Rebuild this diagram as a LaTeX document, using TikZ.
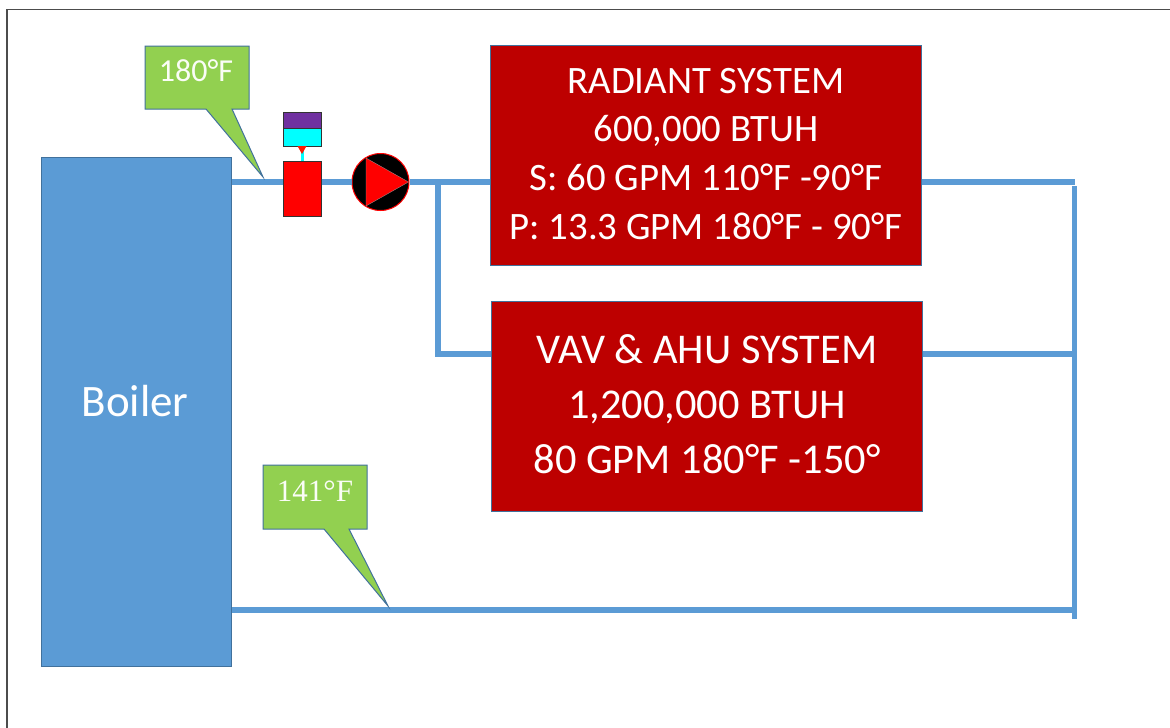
\documentclass[tikz,border=0pt]{standalone}
\usepackage{fontspec}
\setmainfont{Carlito}
\newfontfamily\calloutserif{Liberation Serif}
\definecolor{pipeblue}{HTML}{5B9BD5}
\definecolor{edgeblue}{HTML}{41719C}
\definecolor{loadred}{HTML}{BD0000}
\definecolor{tagred}{HTML}{FF0000}
\definecolor{taggreen}{HTML}{92D050}
\definecolor{sensorpurple}{HTML}{7030A0}
\definecolor{sensorcyan}{HTML}{00FFFF}
\newcommand{\liftstrut}{\rule[-4pt]{0pt}{4pt}}
\tikzset{
	pipe/.style={pipeblue,line width=5.5pt},
	loadbox/.style={draw=edgeblue,line width=1pt,fill=loadred,text=white,align=center,anchor=north west,inner sep=0pt},
	tagbox/.style={draw=edgeblue,line width=1pt,fill=taggreen},
	valvepart/.style={draw=black!80,line width=1.2pt,anchor=north west,inner sep=0pt}
}
\begin{document}
\begin{tikzpicture}[x=1pt,y=-1pt]
	\useasboundingbox (0,0) rectangle (1170,728);
	\fill[white] (0,0) rectangle (1170,728);
	\draw[black!70,line width=1.4pt] (7,728)--(7,9.5)--(1170,9.5);
	% boxes
	\node[anchor=north west,inner sep=0pt,draw=edgeblue,line width=.8pt,fill=pipeblue,minimum width=190pt,minimum height=509pt] (boiler) at (41,157){};
	\node[text=white,font=\fontsize{45}{54}\selectfont] (boilerlabel) at (135,401){Boiler};
	\node[loadbox,minimum width=431pt,minimum height=220pt,font=\fontsize{38.8}{48.7}\selectfont] (radiant) at (490,45){RADIANT SYSTEM\\600,000 BTUH\\S: 60 GPM 110°F -90°F\\P: 13.3 GPM 180°F - 90°F\liftstrut};
	\node[loadbox,minimum width=431pt,minimum height=210pt,font=\fontsize{42.4}{55}\selectfont] (vav) at (491,301){VAV \& AHU SYSTEM\\1,200,000 BTUH\\80 GPM 180°F -150°\liftstrut};
	% valve and pump
	\node[valvepart,fill=tagred,minimum width=37.5pt,minimum height=55pt] (valve) at (283,161){};
	\node[valvepart,fill=sensorcyan,minimum width=37.5pt,minimum height=18pt] (sensor) at (283,128){};
	\node[valvepart,fill=sensorpurple,minimum width=37.5pt,minimum height=16pt] (sensorcap) at (283,112){};
	\node[circle,draw=tagred,fill=black,line width=1pt,minimum size=57pt,inner sep=0pt] (pump) at (380.5,182){};
	% pipes
	\coordinate (supply) at (232,182);
	\coordinate (branch) at (438,182);
	\coordinate (branchlow) at (438,354);
	\coordinate (returntop) at (1075,182);
	\coordinate (returnstart) at (1074.5,186);
	\coordinate (returnend) at (1074.5,619);
	\coordinate (boilerback) at (232,610);
	\draw[pipe] (supply)--(valve.west |- supply);
	\draw[pipe] (valve.east |- supply)--(pump.west);
	\draw[pipe] (pump.east)--(radiant.west |- supply);
	\draw[pipe] (radiant.east |- supply)--(returntop);
	\draw[pipe] (branch)--(branchlow)--(vav.west |- branchlow);
	\draw[pipe] (vav.east |- branchlow)--(returnend |- branchlow);
	\draw[pipe] (returnstart)--(returnend);
	\draw[pipe] (boilerback)--(returnend |- boilerback);
	% stem
	\draw[sensorcyan,line width=2.5pt] (sensor.south)--(valve.north);
	\fill[red!80!orange] (297.5,146)--(306.5,146)--(302,154)--cycle;
	\fill[tagred,draw=black!40,line width=.3pt] (366,158)--(408.5,182)--(366,206)--cycle;
	% tags
	\draw[tagbox] (145,46)--(249,46)--(249,109)--(232,109)--(263,177)--(206,109)--(145,109)--cycle;
	\node[text=white!95!taggreen,font=\fontsize{32}{38}\selectfont] (hottag) at (196,71){180°F};
	\draw[tagbox] (263,465)--(367,465)--(367,529)--(349,529)--(388,606)--(324,529)--(263,529)--cycle;
	\node[text=white!95!taggreen,font=\calloutserif\fontsize{31}{37}\selectfont] (coldtag) at (315,491){141°F};
\end{tikzpicture}
\end{document}
